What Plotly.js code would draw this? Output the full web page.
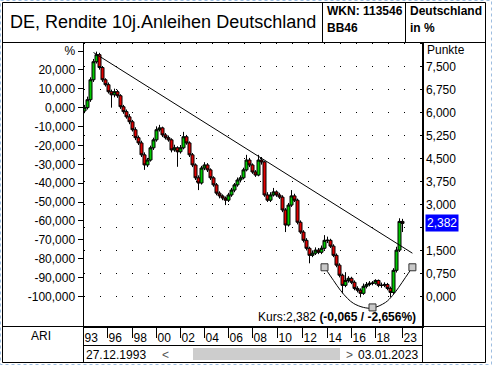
<!DOCTYPE html>
<html><head><meta charset="utf-8">
<script src="https://cdn.plot.ly/plotly-3.0.1.min.js"></script>
<style>html,body{margin:0;padding:0;background:#fff}#c{width:492px;height:365px}</style>
</head><body><div id="c"></div>
<script>
// ---- data (yield, points) ----
const openV = [6.05,6.16,6.42,7.07,7.66,7.89,7.47,7.07,6.91,6.68,6.58,6.68,6.55,6.19,6.03,5.86,5.70,5.44,5.18,5.01,
4.62,4.29,4.45,4.85,5.11,5.44,5.50,5.27,5.18,5.11,4.78,4.85,4.72,4.85,5.21,5.01,4.62,4.29,3.87,3.70,
4.19,4.29,4.13,3.87,3.64,3.37,3.28,3.21,3.14,3.31,3.47,3.64,3.80,3.87,4.13,4.45,4.29,4.06,3.96,4.45,
4.39,3.31,3.14,3.31,3.41,3.31,3.24,2.82,2.33,2.98,3.28,3.14,2.42,2.10,1.83,1.57,1.34,1.41,1.51,1.44,
1.57,1.83,1.83,1.64,1.34,1.02,0.69,0.36,0.52,0.59,0.46,0.26,0.20,0.10,0.33,0.39,0.43,0.43,0.52,0.36,
0.36,0.39,0.26,0.13,0.85,1.51,2.447];
const highV = [6.25,6.52,7.15,7.75,7.99,7.95,7.52,7.12,6.98,6.75,6.78,6.74,6.60,6.25,6.10,5.95,5.76,5.52,5.25,5.08,
4.70,4.52,4.92,5.18,5.55,5.60,5.54,5.33,5.25,5.16,4.95,4.90,4.94,5.37,5.27,5.06,4.68,4.34,3.95,4.26,
4.38,4.35,4.18,3.92,3.70,3.43,3.33,3.26,3.38,3.54,3.70,3.88,3.95,4.20,4.62,4.52,4.34,4.12,4.62,4.55,
4.42,3.40,3.40,3.54,3.46,3.38,3.30,2.88,3.05,3.47,3.35,3.19,2.48,2.16,1.90,1.62,1.50,1.60,1.58,1.66,
2.00,1.95,1.88,1.70,1.40,1.08,0.74,0.79,0.66,0.64,0.52,0.33,0.26,0.42,0.47,0.50,0.50,0.56,0.55,0.45,
0.46,0.44,0.32,0.92,1.62,2.55,2.53];
const lowV = [5.98,6.10,6.35,7.00,7.60,7.40,7.00,6.85,6.62,6.16,6.50,6.48,6.12,5.96,5.80,5.62,5.38,5.10,4.94,4.55,
4.13,4.22,4.40,4.78,5.05,5.38,5.20,5.12,5.05,4.70,4.72,4.23,4.66,4.80,4.95,4.55,4.22,3.80,3.47,3.65,
4.12,4.06,3.80,3.58,3.30,3.20,3.14,2.98,3.08,3.25,3.40,3.58,3.72,3.82,4.08,4.22,4.00,3.90,3.92,4.30,
3.25,3.08,3.08,3.26,3.25,3.18,2.75,2.10,2.28,2.92,3.08,2.35,2.04,1.76,1.50,1.08,1.28,1.35,1.38,1.38,
1.52,1.74,1.58,1.28,0.95,0.62,0.10,0.30,0.45,0.40,0.20,0.13,-0.03,0.05,0.26,0.33,0.36,0.38,0.30,0.28,
0.30,0.20,-0.03,0.08,0.78,1.45,2.10];
const closeV = [6.16,6.42,7.07,7.66,7.89,7.47,7.07,6.91,6.68,6.58,6.68,6.55,6.19,6.03,5.86,5.70,5.44,5.18,5.01,4.62,
4.29,4.45,4.85,5.11,5.44,5.50,5.27,5.18,5.11,4.78,4.85,4.72,4.85,5.21,5.01,4.62,4.29,3.87,3.70,4.19,
4.29,4.13,3.87,3.64,3.37,3.28,3.21,3.14,3.31,3.47,3.64,3.80,3.87,4.13,4.45,4.29,4.06,3.96,4.45,4.39,
3.31,3.14,3.31,3.41,3.31,3.24,2.82,2.33,2.98,3.28,3.14,2.42,2.10,1.83,1.57,1.34,1.41,1.51,1.44,1.57,
1.83,1.83,1.64,1.34,1.02,0.69,0.36,0.52,0.59,0.46,0.26,0.20,0.10,0.33,0.39,0.43,0.43,0.52,0.36,0.36,
0.39,0.26,0.13,0.85,1.51,2.447,2.382];
const baseValue = 6.158;           // value that equals 0 %
const xTickPos = [-0.3,7.67,16,24,32,40,48,56,64.33,72.67,81,89,97,106];
const xTickLabels = ['93','96','98','00','02','04','06','08','10','12','14','16','18','23'];
const pctTicks = [30,20,10,0,-10,-20,-30,-40,-50,-60,-70,-80,-90,-100];
const ptsTicks = [8.25,7.5,6.75,6,5.25,4.5,3.75,3,2.25,1.5,0.75,0];
const trendX = [3,109.3];
const trendY = [7.96,1.41];
const arcX = [80,83,85.3,87.7,89.7,93,96,100.3,102.7,104.7,107,109.3];
const arcY = [0.95,0.52,0.20,-0.07,-0.23,-0.36,-0.38,-0.20,0.03,0.29,0.62,0.95];
const arcHandleX = [80,96,109.3];
const arcHandleY = [0.95,-0.36,0.95];
const dateFrom = '27.12.1993', dateTo = '03.01.2023';

const W = 492, H = 365;
const px = x => x / W, py = y => 1 - y / H;
const fmt = (v, d) => v.toFixed(d).replace('.', ',');

const xIdx = closeV.map((_, i) => i);
const last = closeV[closeV.length - 1], prev = closeV[closeV.length - 2];
const chg = last - prev, chgPct = chg / prev * 100;

const yMinPts = -0.983, yMaxPts = 8.287;
const toPct = v => (v / baseValue - 1) * 100;

const traces = [
  // percent view of the same series on the left axis (invisible, it only carries the % scale)
  {type:'scatter', mode:'lines', x:xIdx, y:closeV.map(toPct), xaxis:'x', yaxis:'y', line:{width:0, color:'rgba(0,0,0,0)'}, hoverinfo:'skip'},
  {type:'candlestick', x:xIdx, open:openV, high:highV, low:lowV, close:closeV, xaxis:'x', yaxis:'y2',
   increasing:{line:{color:'#000', width:1}, fillcolor:'#00c800'},
   decreasing:{line:{color:'#000', width:1}, fillcolor:'#e00000'},
   whiskerwidth:0, hoverinfo:'skip'},
  {type:'scatter', mode:'lines', x:trendX, y:trendY, xaxis:'x', yaxis:'y2', line:{color:'#000', width:1}, hoverinfo:'skip'},
  {type:'scatter', mode:'lines', x:arcX, y:arcY, xaxis:'x', yaxis:'y2', line:{color:'#000', width:1, shape:'spline'}, hoverinfo:'skip'},
  {type:'scatter', mode:'markers', x:arcHandleX, y:arcHandleY, xaxis:'x', yaxis:'y2',
   marker:{symbol:'square', size:7, color:'#c8c8c8', line:{color:'#333', width:1}}, hoverinfo:'skip'}
];

const shapes = [
  {type:'rect', xref:'paper', yref:'paper', x0:px(0.5), x1:px(491.5), y0:py(0.5), y1:py(364.5), line:{color:'#9dbde0', width:1, dash:'dot'}},
  {type:'rect', xref:'paper', yref:'paper', x0:px(2.5), x1:px(485.5), y0:py(2.5), y1:py(362.5), line:{color:'#000', width:1}},
  {type:'line', xref:'paper', yref:'paper', x0:px(2.5), x1:px(485.5), y0:py(42.5), y1:py(42.5), line:{color:'#000', width:1}},
  {type:'line', xref:'paper', yref:'paper', x0:px(322.5), x1:px(322.5), y0:py(2.5), y1:py(42.5), line:{color:'#000', width:1}},
  {type:'line', xref:'paper', yref:'paper', x0:px(405.5), x1:px(405.5), y0:py(2.5), y1:py(42.5), line:{color:'#000', width:1}},
  {type:'line', xref:'paper', yref:'paper', x0:px(83.5), x1:px(83.5), y0:py(42.5), y1:py(362.5), line:{color:'#000', width:1}},
  {type:'line', xref:'paper', yref:'paper', x0:px(422.5), x1:px(422.5), y0:py(42.5), y1:py(362.5), line:{color:'#000', width:1}},
  {type:'line', xref:'paper', yref:'paper', x0:px(2.5), x1:px(485.5), y0:py(326.5), y1:py(326.5), line:{color:'#000', width:1}},
  {type:'line', xref:'paper', yref:'paper', x0:px(83.5), x1:px(422.5), y0:py(345.5), y1:py(345.5), line:{color:'#000', width:1}},
  {type:'rect', xref:'paper', yref:'paper', x0:px(193), x1:px(340), y0:py(348), y1:py(360), fillcolor:'#cdcdcd', line:{width:0}}
];

const A = (x, y, text, opts) => Object.assign({xref:'paper', yref:'paper', x:px(x), y:py(y), text, showarrow:false,
  xanchor:'left', yanchor:'middle', font:{size:12, color:'#000'}}, opts || {});

const annotations = [
  A(8, 22, 'DE, Rendite 10j.Anleihen Deutschland', {font:{size:18, color:'#000'}}),
  A(325, 11, '<b>WKN: 113546</b>'),
  A(325, 28, '<b>BB46</b>'),
  A(408, 11, '<b>Deutschland</b>'),
  A(408, 28, '<b>in %</b>'),
  A(425, 50, 'Punkte'),
  {xref:'paper', yref:'y2', x:px(425), y:last, text:fmt(last,3), showarrow:false, xanchor:'left', yanchor:'middle',
   bgcolor:'#0000ff', font:{size:12, color:'#fff'}, borderpad:1},
  A(418, 317, 'Kurs:' + fmt(last,3) + ' <b>(' + fmt(chg,3) + ' / ' + fmt(chgPct,3) + '%)</b>', {xanchor:'right'}),
  A(41, 336, 'ARI', {xanchor:'center'}),
  A(84, 355, dateFrom),
  A(160, 355, '<', {font:{size:12, color:'#555'}}),
  A(344, 355, '>', {font:{size:12, color:'#555'}}),
  A(420, 355, dateTo, {xanchor:'right'})
];

const layout = {
  width:W, height:H, margin:{l:0, r:0, t:0, b:0, pad:0}, paper_bgcolor:'#fff', plot_bgcolor:'#fff',
  showlegend:false, separators:',.', hovermode:false, boxgap:0, boxgroupgap:0,
  font:{family:'Liberation Sans, Arial, sans-serif', size:12, color:'#000'},
  xaxis:{domain:[px(83.5), px(422.5)], range:[-0.333, 112.667], tickvals:xTickPos, ticktext:xTickLabels,
    ticks:'outside', ticklen:10, tickcolor:'#000', tickwidth:1, ticklabelposition:'outside right', ticklabelstandoff:0,
    showline:true, linecolor:'#000', showgrid:false, zeroline:false, rangeslider:{visible:false}, fixedrange:true,
    tickfont:{size:12, color:'#000'}},
  yaxis:{domain:[py(326.5), py(42.5)], range:[toPct(yMinPts), toPct(yMaxPts)], tickvals:pctTicks,
    ticktext:pctTicks.map(v => v === 30 ? '%' : fmt(v,3)), ticks:'outside', ticklen:5, tickcolor:'#000',
    showline:true, linecolor:'#000', showgrid:false, zeroline:false, side:'left', anchor:'x', fixedrange:true, tickfont:{size:12}},
  yaxis2:{domain:[py(326.5), py(42.5)], range:[yMinPts, yMaxPts], overlaying:'y', side:'right', anchor:'x',
    tickvals:ptsTicks, ticktext:ptsTicks.map(v => (v === 8.25 || v === 2.25) ? '' : fmt(v,3)),
    ticks:'inside', ticklen:3, tickcolor:'#000', showline:true, linecolor:'#000', zeroline:false,
    showgrid:true, gridcolor:'#000', gridwidth:1, griddash:'1px,15px', fixedrange:true, tickfont:{size:12}},
  shapes, annotations
};

Plotly.newPlot('c', traces, layout, {staticPlot:true, displayModeBar:false});
</script></body></html>
